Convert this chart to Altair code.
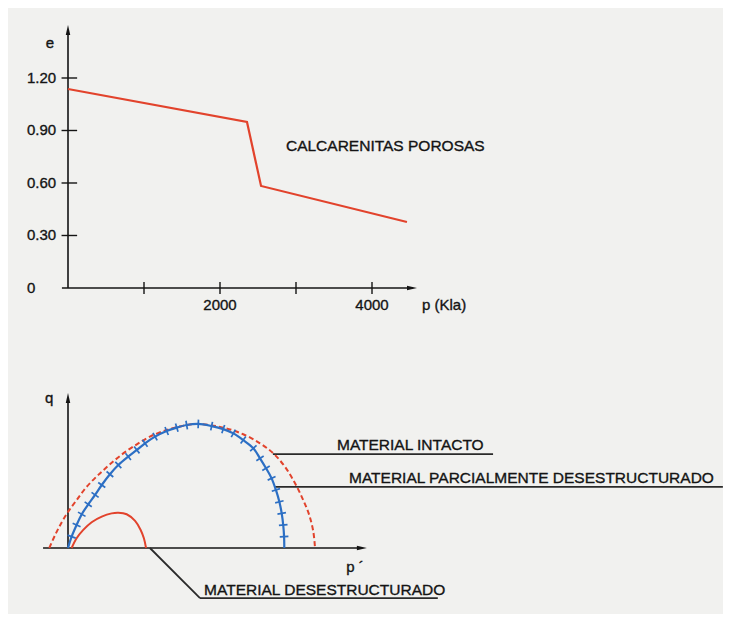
import math
import altair as alt
import pandas as pd

# ---------------- data: top panel (e - p curve) ----------------
p_kpa = [0, 2355, 2540, 4460]
e_void = [1.137, 0.949, 0.583, 0.377]
e_ticks = [0.30, 0.60, 0.90, 1.20]
e_tick_labels = ["0.30", "0.60", "0.90", "1.20"]
p_ticks = [1000, 2000, 3000, 4000]
p_tick_labels = ["", "2000", "", "4000"]

# ---------------- data: bottom panel (yield surfaces, arbitrary units) ----------------
intact_p = [-0.87, -0.60, -0.29, 0.01, 0.40, 0.87, 1.41, 1.95, 2.57, 3.20, 3.81, 4.59,
            5.36, 6.06, 7.22, 8.15, 8.93, 9.55, 10.09, 10.56, 10.94, 11.22, 11.41, 11.49]
intact_q = [0.00, 0.60, 1.20, 1.69, 2.23, 2.85, 3.40, 3.89, 4.40, 4.82, 5.18, 5.49,
            5.69, 5.77, 5.60, 5.29, 4.87, 4.40, 3.78, 3.01, 2.23, 1.53, 0.76, 0.00]

partial_p = [0.00, 0.17, 0.40, 0.64, 0.94, 1.26, 1.57, 1.95, 2.34, 2.80, 3.20, 3.58, 4.05,
             4.59, 5.06, 5.52, 6.06, 6.68, 7.22, 7.69, 8.15, 8.62, 8.93, 9.21, 9.47, 9.67,
             9.83, 9.94, 10.01, 10.05, 10.06]
partial_q = [0.00, 0.53, 1.07, 1.57, 2.03, 2.47, 2.93, 3.43, 3.86, 4.25, 4.56, 4.87, 5.18,
             5.44, 5.60, 5.72, 5.77, 5.67, 5.53, 5.33, 5.02, 4.64, 4.17, 3.71, 3.24, 2.70,
             2.15, 1.61, 1.07, 0.53, 0.00]

destr_p = [0.17, 0.40, 0.71, 1.10, 1.57, 2.03, 2.34, 2.73, 3.12, 3.38, 3.53, 3.63]
destr_q = [0.00, 0.45, 0.84, 1.20, 1.46, 1.61, 1.64, 1.57, 1.26, 0.84, 0.45, 0.00]

labels_bottom = ["MATERIAL INTACTO", "MATERIAL PARCIALMENTE DESESTRUCTURADO",
                 "MATERIAL DESESTRUCTURADO"]
title_top = "CALCARENITAS POROSAS"

# ---------------- styling ----------------
FONT = "Liberation Sans"
INK = "#141414"
RED = "#e2432c"
BLUE = "#2c6fc4"
BG = "#f1f1ef"

W, H = 715, 606
# scales (explicit domains place both panels inside one canvas)
XT = alt.Scale(domain=[-789.5, 8618.4], zero=False, nice=False)
YT = alt.Scale(domain=[-1.863, 1.600], zero=False, nice=False)
XB = alt.Scale(domain=[-2.7907, 30.4651], zero=False, nice=False)
YB = alt.Scale(domain=[-3.0698, 25.116], zero=False, nice=False)

UP = "M0,-1L0.45,1L-0.45,1Z"
RIGHT = "M1,0L-1,-0.45L-1,0.45Z"


def seg_layer(df, xs, ys, color, width):
    return alt.Chart(df).mark_rule(color=color, strokeWidth=width).encode(
        x=alt.X("x1:Q", scale=xs, axis=None),
        x2="x2:Q",
        y=alt.Y("y1:Q", scale=ys, axis=None),
        y2="y2:Q",
    )


def text_layer(df, xs, ys, align, size, baseline="middle"):
    return alt.Chart(df).mark_text(
        align=align, baseline=baseline, font=FONT, fontSize=size, color=INK,
        stroke=INK, strokeWidth=0.35
    ).encode(
        x=alt.X("x:Q", scale=xs, axis=None),
        y=alt.Y("y:Q", scale=ys, axis=None),
        text="t:N",
    )


def arrow_layer(df, xs, ys, shape):
    return alt.Chart(df).mark_point(
        shape=shape, filled=True, color=INK, size=100, opacity=1
    ).encode(
        x=alt.X("x:Q", scale=xs, axis=None),
        y=alt.Y("y:Q", scale=ys, axis=None),
    )


# ================= top panel =================
top_curve = alt.Chart(pd.DataFrame({"p": p_kpa, "e": e_void})).mark_line(
    color=RED, strokeWidth=2.2
).encode(
    x=alt.X("p:Q", scale=XT, axis=None),
    y=alt.Y("e:Q", scale=YT, axis=None),
)

top_axes = seg_layer(pd.DataFrame({
    "x1": [0, -80], "x2": [0, 4540], "y1": [0, 0], "y2": [1.47, 0]}), XT, YT, INK, 1.6)

top_yticks = seg_layer(pd.DataFrame({
    "x1": [-85] * len(e_ticks), "x2": [120] * len(e_ticks),
    "y1": e_ticks, "y2": e_ticks}), XT, YT, INK, 1.4)
top_xticks = seg_layer(pd.DataFrame({
    "x1": p_ticks, "x2": p_ticks,
    "y1": [-0.034] * len(p_ticks), "y2": [0.034] * len(p_ticks)}), XT, YT, INK, 1.4)

top_arrow_up = arrow_layer(pd.DataFrame({"x": [0], "y": [1.474]}), XT, YT, UP)
top_arrow_right = arrow_layer(pd.DataFrame({"x": [4526], "y": [0]}), XT, YT, RIGHT)

top_left_texts = text_layer(pd.DataFrame({
    "x": [-540] * (len(e_ticks) + 1) + [4658],
    "y": e_ticks + [0, -0.097],
    "t": e_tick_labels + ["0", "p (Kla)"]}), XT, YT, "left", 15)
top_center_texts = text_layer(pd.DataFrame({
    "x": p_ticks + [-237],
    "y": [-0.097] * len(p_ticks) + [1.40],
    "t": p_tick_labels + ["e"]}), XT, YT, "center", 15)
top_title = text_layer(pd.DataFrame({"x": [2868], "y": [0.811], "t": [title_top]}),
                       XT, YT, "left", 15.5)

top = alt.layer(top_axes, top_yticks, top_xticks, top_arrow_up, top_arrow_right,
                top_curve, top_left_texts, top_center_texts, top_title)

# ================= bottom panel =================
bot_axes = seg_layer(pd.DataFrame({
    "x1": [0, -1.16], "x2": [0, 13.5], "y1": [0, 0], "y2": [6.95, 0]}), XB, YB, INK, 1.6)
bot_arrow_up = arrow_layer(pd.DataFrame({"x": [0], "y": [6.98]}), XB, YB, UP)
bot_arrow_right = arrow_layer(pd.DataFrame({"x": [13.67], "y": [0]}), XB, YB, RIGHT)

leaders = seg_layer(pd.DataFrame({
    "x1": [9.53, 9.63, 3.81, 6.14],
    "x2": [19.77, 30.46, 6.14, 17.2],
    "y1": [4.37, 2.84, 0.0, -2.33],
    "y2": [4.37, 2.84, -2.33, -2.33]}), XB, YB, "#2a2a2a", 1.8)

intact = alt.Chart(pd.DataFrame({"p": intact_p, "q": intact_q})).mark_line(
    color=RED, strokeWidth=2, strokeDash=[5, 3], interpolate="catmull-rom"
).encode(
    x=alt.X("p:Q", scale=XB, axis=None),
    y=alt.Y("q:Q", scale=YB, axis=None),
)

partial = alt.Chart(pd.DataFrame({"p": partial_p, "q": partial_q})).mark_line(
    color=BLUE, strokeWidth=2.2, interpolate="catmull-rom"
).encode(
    x=alt.X("p:Q", scale=XB, axis=None),
    y=alt.Y("q:Q", scale=YB, axis=None),
)

# cross-ticks on the blue curve, perpendicular to it at each read point
tick_rows = []
for i in range(1, len(partial_p) - 1):
    dx = partial_p[i + 1] - partial_p[i - 1]
    dy = partial_q[i + 1] - partial_q[i - 1]
    ang = math.degrees(math.atan2(-dy, dx)) % 360
    tick_rows.append({"p": partial_p[i], "q": partial_q[i], "a": ang})
partial_ticks = alt.Chart(pd.DataFrame(tick_rows)).mark_point(
    shape="M0,-1L0,1", color=BLUE, strokeWidth=1.7, size=75, opacity=1, filled=False
).encode(
    x=alt.X("p:Q", scale=XB, axis=None),
    y=alt.Y("q:Q", scale=YB, axis=None),
    angle=alt.Angle("a:Q", scale=None),
)

destr = alt.Chart(pd.DataFrame({"p": destr_p, "q": destr_q})).mark_line(
    color=RED, strokeWidth=2, interpolate="catmull-rom"
).encode(
    x=alt.X("p:Q", scale=XB, axis=None),
    y=alt.Y("q:Q", scale=YB, axis=None),
)

bot_axis_labels = text_layer(pd.DataFrame({
    "x": [-0.88, 13.35], "y": [6.98, -0.88], "t": ["q", "p ´"]}), XB, YB, "center", 15)
bot_labels = text_layer(pd.DataFrame({
    "x": [12.51, 13.07, 6.33], "y": [4.56, 3.02, -2.19], "t": labels_bottom}),
    XB, YB, "left", 15.5, baseline="alphabetic")

bottom = alt.layer(bot_axes, bot_arrow_up, bot_arrow_right, leaders, intact, destr,
                   partial, partial_ticks, bot_axis_labels, bot_labels)

chart = alt.layer(top, bottom).resolve_scale(
    x="independent", y="independent"
).properties(
    width=W, height=H, padding=0, background=BG,
    autosize=alt.AutoSizeParams(type="none"),
).configure_view(stroke=None)

chart.save("out.html", embed_options={"renderer": "svg", "actions": False})
